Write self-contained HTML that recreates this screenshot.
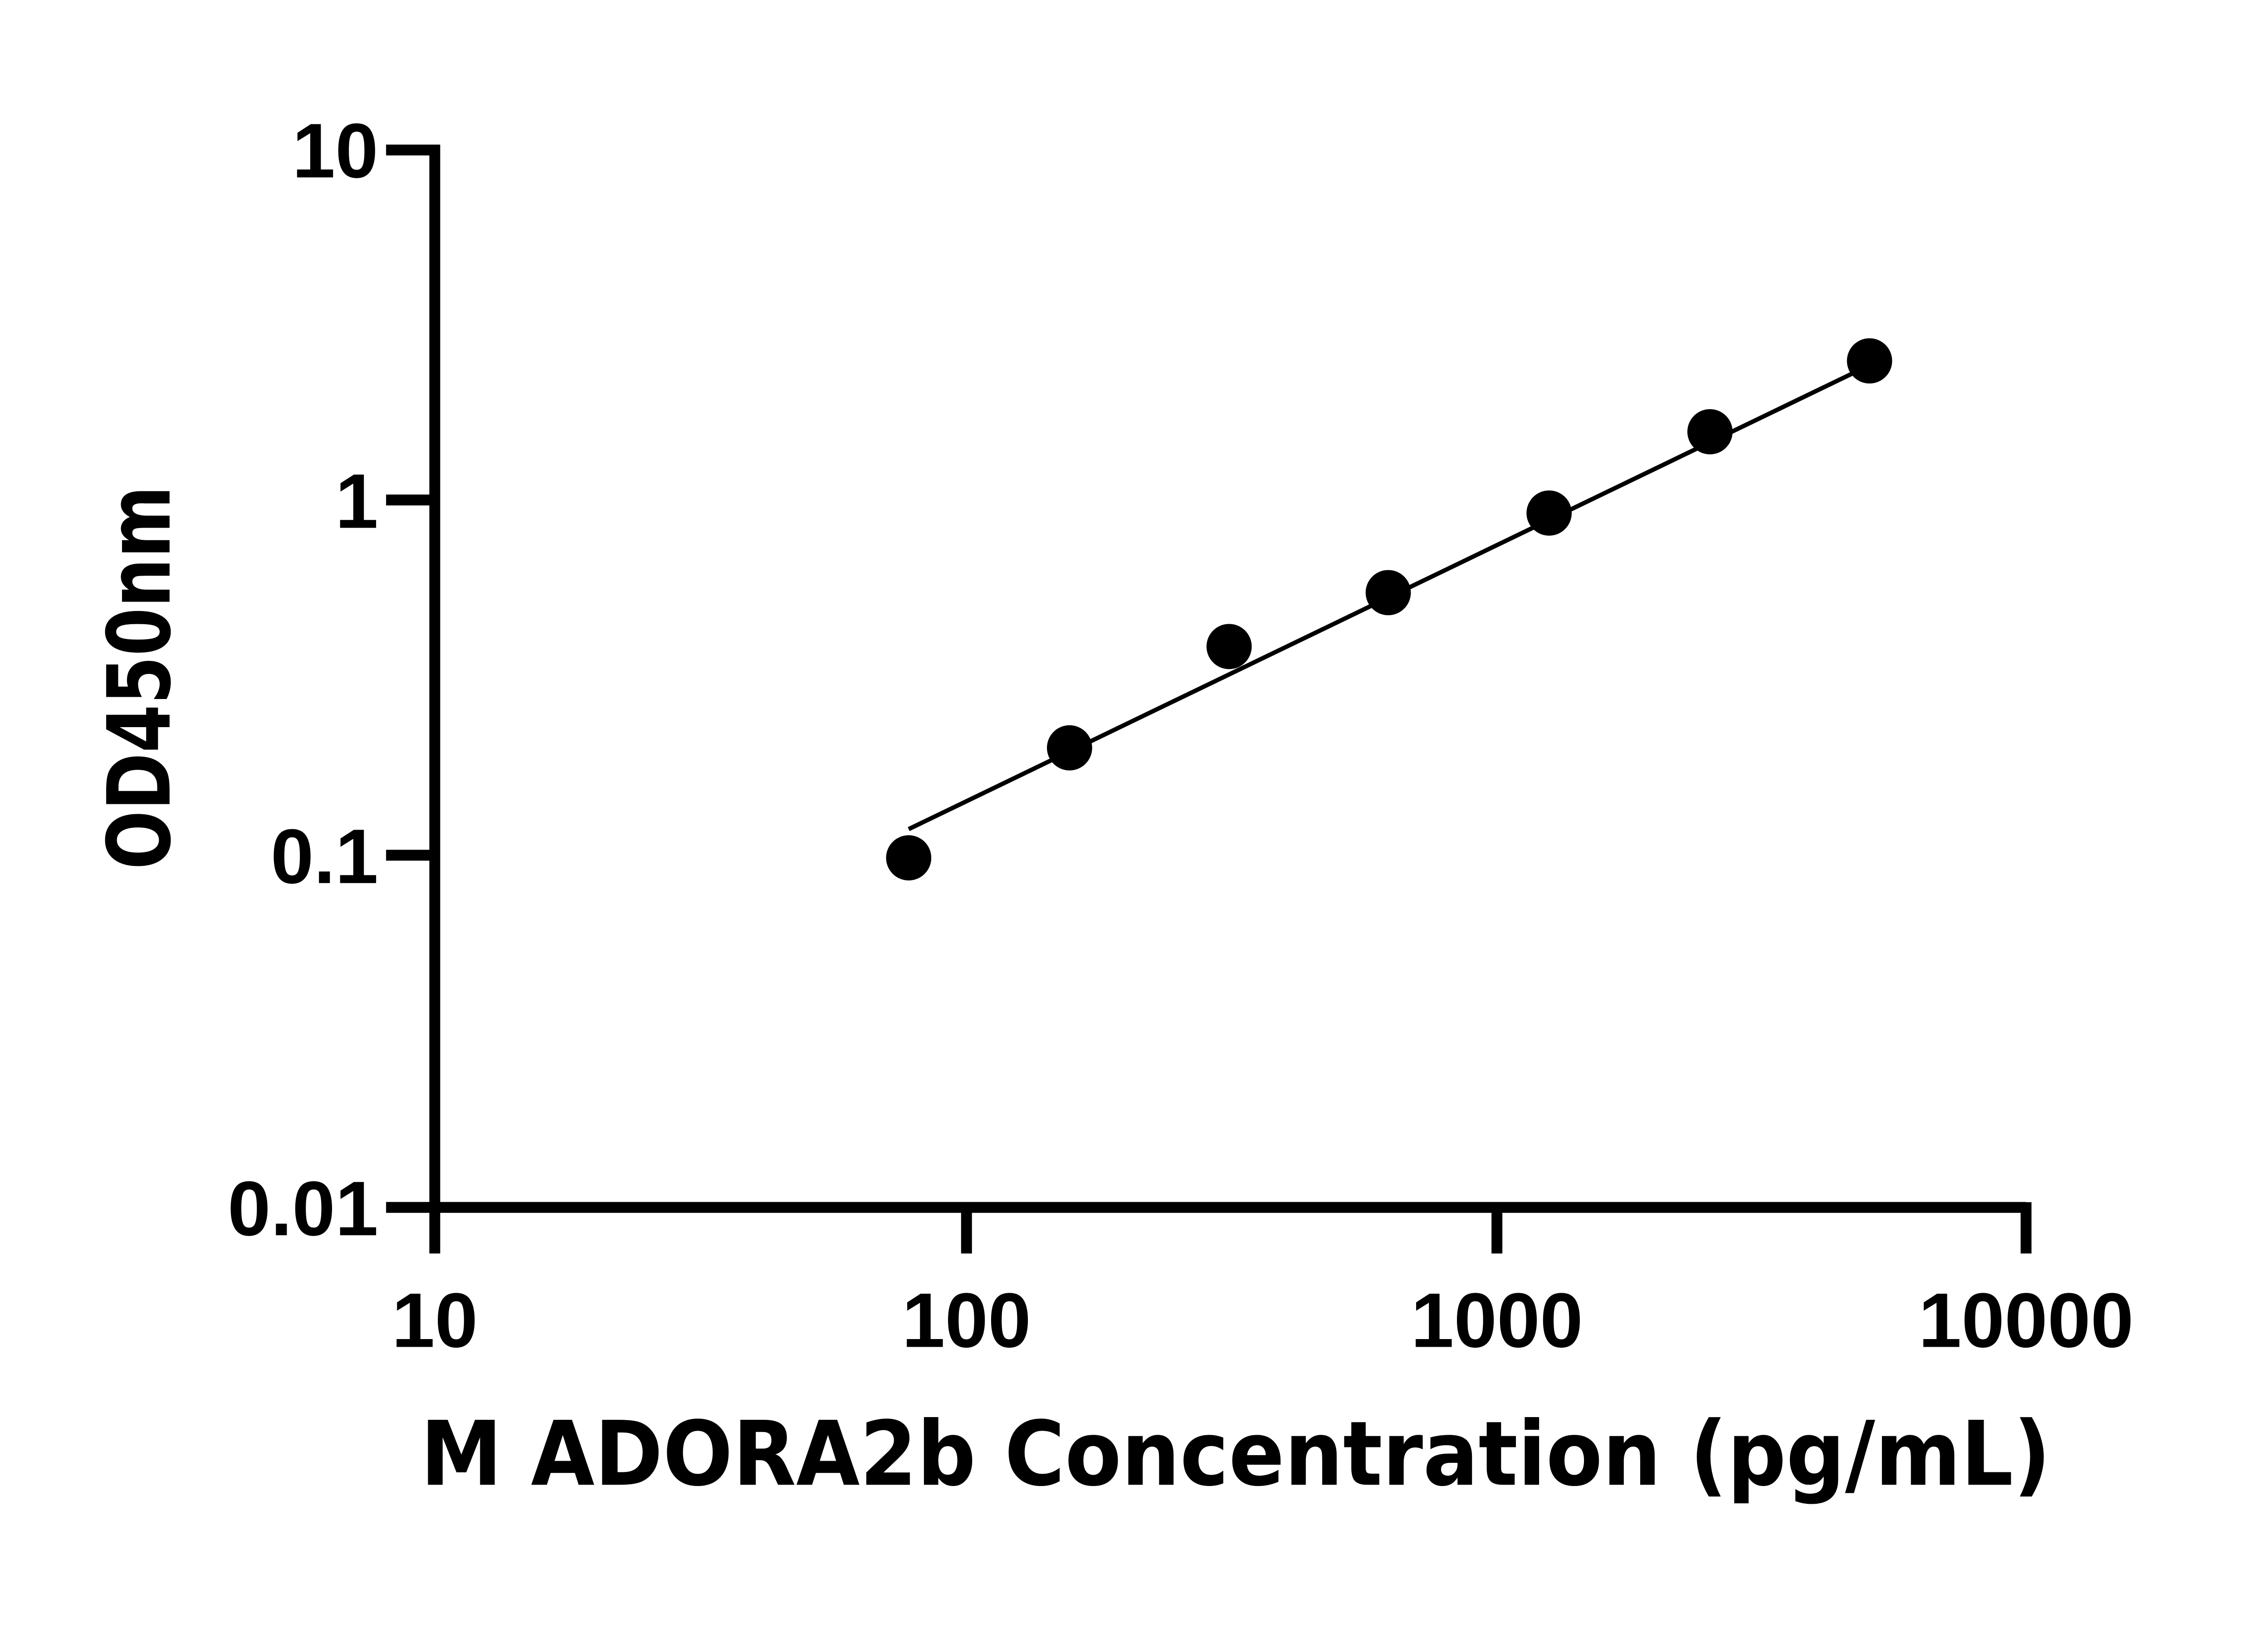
<!DOCTYPE html>
<html><head><meta charset="utf-8"><style>html,body{margin:0;padding:0;background:#fff}svg{display:block}</style></head>
<body>
<svg width="5142" height="3600" viewBox="0 0 5142 3600" xmlns="http://www.w3.org/2000/svg">
<rect width="5142" height="3600" fill="#fff"/>
<g transform="scale(0.9585)">
<g stroke="#000" stroke-width="25" fill="none" stroke-linecap="butt">
<line x1="1000" y1="333" x2="1000" y2="2883"/>
<line x1="888" y1="2777" x2="4660" y2="2777"/>
<line x1="4660" y1="2765" x2="4660" y2="2883"/>
<line x1="2223" y1="2777" x2="2223" y2="2883"/>
<line x1="3443" y1="2777" x2="3443" y2="2883"/>
<line x1="888" y1="345" x2="1012" y2="345"/>
<line x1="888" y1="1150" x2="1000" y2="1150"/>
<line x1="888" y1="1967" x2="1000" y2="1967"/>
</g>
<g font-family="Liberation Sans, Arial, sans-serif" font-weight="bold" font-size="178" fill="#000">
<text x="870" y="408" text-anchor="end">10</text>
<text x="870" y="1214" text-anchor="end">1</text>
<text x="870" y="2031" text-anchor="end">0.1</text>
<text x="870" y="2841" text-anchor="end">0.01</text>
<text x="1000" y="3098" text-anchor="middle">10</text>
<text x="2223" y="3098" text-anchor="middle">100</text>
<text x="3443" y="3098" text-anchor="middle">1000</text>
<text x="4660" y="3098" text-anchor="middle">10000</text>
</g>
<text x="967" y="3415" font-family="DejaVu Sans, Liberation Sans, sans-serif" font-weight="bold" font-size="205" textLength="3750" lengthAdjust="spacingAndGlyphs">M ADORA2b Concentration (pg/mL)</text>
<text transform="translate(390,2000) rotate(-90)" font-family="DejaVu Sans, Liberation Sans, sans-serif" font-weight="bold" font-size="200" textLength="883" lengthAdjust="spacingAndGlyphs">OD450nm</text>
<line x1="2090" y1="1907" x2="4300" y2="840" stroke="#000" stroke-width="10"/>
<g fill="#000">
<circle cx="2090" cy="1973" r="52"/>
<circle cx="2460" cy="1720" r="52"/>
<circle cx="2827" cy="1487" r="52"/>
<circle cx="3193" cy="1363" r="52"/>
<circle cx="3563" cy="1180" r="52"/>
<circle cx="3933" cy="993" r="52"/>
<circle cx="4300" cy="830" r="52"/>
</g>
</g>
</svg>
</body></html>
